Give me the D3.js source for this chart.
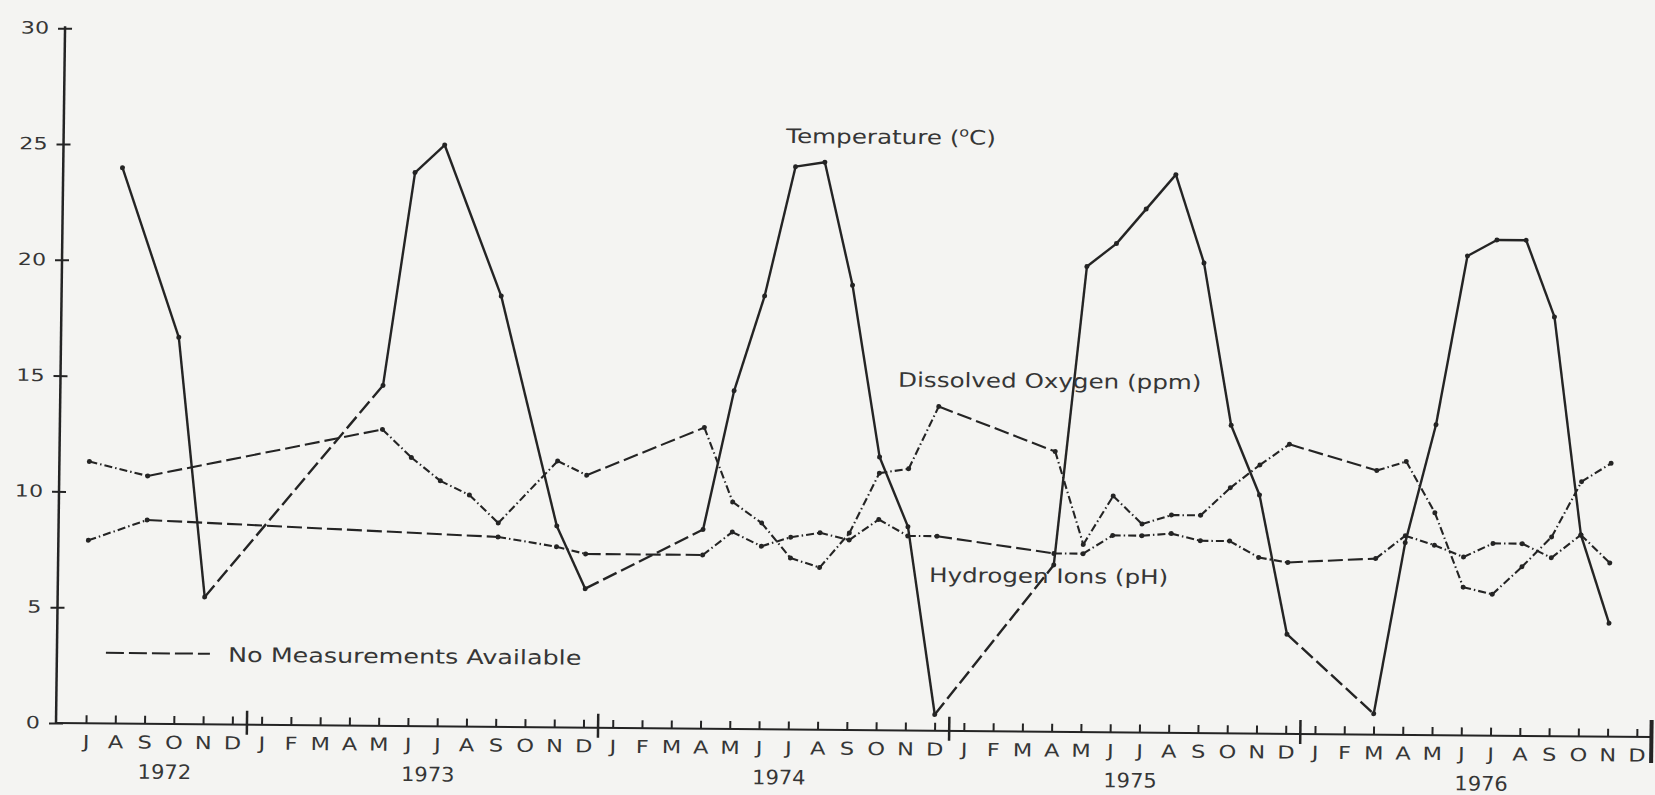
<!DOCTYPE html>
<html>
<head>
<meta charset="utf-8">
<script src="https://cdn.jsdelivr.net/npm/d3@7"></script>
<style>
    body { margin: 0; background: #f4f4f2; }
    svg { display: block; }
    text { font-family: "DejaVu Sans", sans-serif; fill: #363636; }
</style>
</head>
<body>
<div id="chart"></div>
<script>
// month letters, the record runs from July 1972 to December 1976
var monthLetters = ["J","F","M","A","M","J","J","A","S","O","N","D"];
var years = ["1972", "1973", "1974", "1975", "1976"];
var firstMonth = 6;          // July
var yTicks = [0, 5, 10, 15, 20, 25, 30];

// one value per month, null = not measured
var temperature = [
    null, 24.0, null, 16.7, 5.5, null,
    null, null, null, null, 14.7, 23.9, 25.1, null, 18.6, null, 8.7, 6.0,
    null, null, null, 8.6, 14.6, 18.7, 24.3, 24.5, 19.2, 11.8, 8.8, 0.7,
    null, null, null, 7.2, 20.1, 21.1, 22.6, 24.1, 20.3, 13.3, 10.3, 4.3,
    null, null, 0.9, 8.3, 13.4, 20.7, 21.4, 21.4, 18.1, 8.7, 4.9, null
];
var oxygen = [
    11.3, null, 10.7, null, null, null,
    null, null, null, null, 12.8, 11.6, 10.6, 10.0, 8.8, null, 11.5, 10.9,
    null, null, null, 13.0, 9.8, 8.9, 7.4, 7.0, 8.5, 11.1, 11.3, 14.0,
    null, null, null, 12.1, 8.1, 10.2, 9.0, 9.4, 9.4, 10.6, 11.6, 12.5,
    null, null, 11.4, 11.8, 9.6, 6.4, 6.1, 7.3, 8.6, 11.0, 11.8, null
];
var hydrogen = [
    7.9, null, 8.8, null, null, null,
    null, null, null, null, null, null, null, null, 8.2, null, 7.8, 7.5,
    null, null, null, 7.5, 8.5, 7.9, 8.3, 8.5, 8.2, 9.1, 8.4, 8.4,
    null, null, null, 7.7, 7.7, 8.5, 8.5, 8.6, 8.3, 8.3, 7.6, 7.4,
    null, null, 7.6, 8.6, 8.2, 7.7, 8.3, 8.3, 7.7, 8.7, 7.5, null
];

var width = 1655,
    height = 795,
    ink = "#242424",
    noDataDash = "15,5";

var monthCount = temperature.length;
var monthNames = d3.range(monthCount).map(function(i) {
    return monthLetters[(firstMonth + i) % 12];
});
// index of the first month of every year on the axis
var yearStarts = years.map(function(d, k) { return k === 0 ? 0 : 12 * k - firstMonth; });

var x = d3.scaleLinear().domain([0, monthCount - 1]).range([86, 1636.8]);
var y = d3.scaleLinear().domain([0, 30]).range([723, 28.2]);
var x0 = 56;

var svg = d3.select("#chart")
    .append("svg")
    .attr("width", width)
    .attr("height", height);

svg.append("rect").attr("width", width).attr("height", height).attr("fill", "#f4f4f2");

// the scanned sheet is a little skewed, so the whole plot goes through it
var g = svg.append("g")
    .attr("transform", "matrix(1,0.0088,-0.013,1,9.4,-0.49)");

// axis lines
g.append("line")
    .attr("x1", x0).attr("x2", x0)
    .attr("y1", y(30) - 2).attr("y2", y(0))
    .attr("stroke", ink).attr("stroke-width", 2.5);
g.append("line")
    .attr("x1", x0).attr("x2", x(monthCount - 0.5))
    .attr("y1", y(0)).attr("y2", y(0))
    .attr("stroke", ink).attr("stroke-width", 2);

// Y axis
var yAxis = g.append("g")
    .attr("transform", "translate(" + x0 + ",0)")
    .call(d3.axisLeft(y).tickValues(yTicks).tickSize(7).tickSizeOuter(0));
yAxis.select(".domain").remove();
yAxis.selectAll(".tick line").attr("x1", 7).attr("stroke", ink).attr("stroke-width", 2);
yAxis.selectAll(".tick text")
    .attr("x", 0)
    .attr("dy", "0.3em")
    .attr("transform", "translate(-16,0) scale(1.3,1)")
    .style("font-size", "17px");

// X axis, one tick per month
var xAxis = g.append("g")
    .attr("transform", "translate(0," + y(0) + ")")
    .call(d3.axisBottom(x)
        .tickValues(d3.range(monthCount))
        .tickSize(-8)
        .tickPadding(12)
        .tickSizeOuter(0)
        .tickFormat(function(i) { return monthNames[i]; }));
xAxis.select(".domain").remove();
xAxis.selectAll(".tick line").attr("stroke", ink).attr("stroke-width", 2);
xAxis.selectAll(".tick text")
    .attr("transform", "scale(1.25,1)")
    .style("font-size", "18px");

// year separators
g.append("g").selectAll("line")
    .data(yearStarts.slice(1))
    .enter()
    .append("line")
    .attr("x1", function(d) { return x(d - 0.5); })
    .attr("x2", function(d) { return x(d - 0.5); })
    .attr("y1", y(0) - 14)
    .attr("y2", y(0) + 10)
    .attr("stroke", ink).attr("stroke-width", 2.5);
g.append("line")
    .attr("x1", x(monthCount - 0.5)).attr("x2", x(monthCount - 0.5))
    .attr("y1", y(0) - 17).attr("y2", y(0) + 26)
    .attr("stroke", ink).attr("stroke-width", 4);

// year labels
g.append("g").selectAll("text")
    .data(years)
    .enter()
    .append("text")
    .attr("text-anchor", "middle")
    .attr("transform", function(d, k) {
        var last = k === years.length - 1 ? monthCount - 1 : yearStarts[k + 1] - 1;
        var mid = (yearStarts[k] + last) / 2 + 0.2;
        return "translate(" + x(mid) + ",778) scale(1.05,1)";
    })
    .style("font-size", "20px")
    .text(function(d) { return d; });

// one series: joined points, dashed where months were skipped
function drawSeries(values, dash, lineWidth) {
    var pts = [];
    values.forEach(function(v, i) { if (v !== null) pts.push([i, v]); });
    var segs = d3.pairs(pts);

    var s = g.append("g");
    s.selectAll("line")
        .data(segs)
        .enter()
        .append("line")
        .attr("x1", function(d) { return x(d[0][0]); })
        .attr("y1", function(d) { return y(d[0][1]); })
        .attr("x2", function(d) { return x(d[1][0]); })
        .attr("y2", function(d) { return y(d[1][1]); })
        .attr("stroke", ink)
        .attr("stroke-width", lineWidth)
        .attr("stroke-dasharray", function(d) {
            return d[1][0] - d[0][0] > 2 ? noDataDash : dash;
        });
    s.selectAll("circle")
        .data(pts)
        .enter()
        .append("circle")
        .attr("cx", function(d) { return x(d[0]); })
        .attr("cy", function(d) { return y(d[1]); })
        .attr("r", 2.5)
        .attr("fill", ink);
}

drawSeries(hydrogen, "8,3,1.5,3", 2.1);
drawSeries(oxygen, "8,3,1.5,3", 2.1);
drawSeries(temperature, null, 2.4);

// labels
function label(lx, ly, str) {
    return g.append("text")
        .attr("transform", "translate(" + lx + "," + ly + ") scale(1.23,1)")
        .style("font-size", "20px")
        .text(str);
}

var tLabel = label(778.5, 136.6, "Temperature (");
tLabel.append("tspan").attr("dy", -8).style("font-size", "13px").text("o");
tLabel.append("tspan").attr("dy", 8).text("C)");

label(893.6, 379.3, "Dissolved Oxygen (ppm)");
label(927, 574.3, "Hydrogen Ions (pH)");

// legend
g.append("line")
    .attr("x1", 105).attr("x2", 209)
    .attr("y1", 652.4).attr("y2", 652.4)
    .attr("stroke", ink).attr("stroke-width", 2)
    .attr("stroke-dasharray", "18,5");
g.append("text")
    .attr("transform", "translate(227.2,660.2) scale(1.27,1)")
    .style("font-size", "20px")
    .text("No Measurements Available");
</script>
</body>
</html>
